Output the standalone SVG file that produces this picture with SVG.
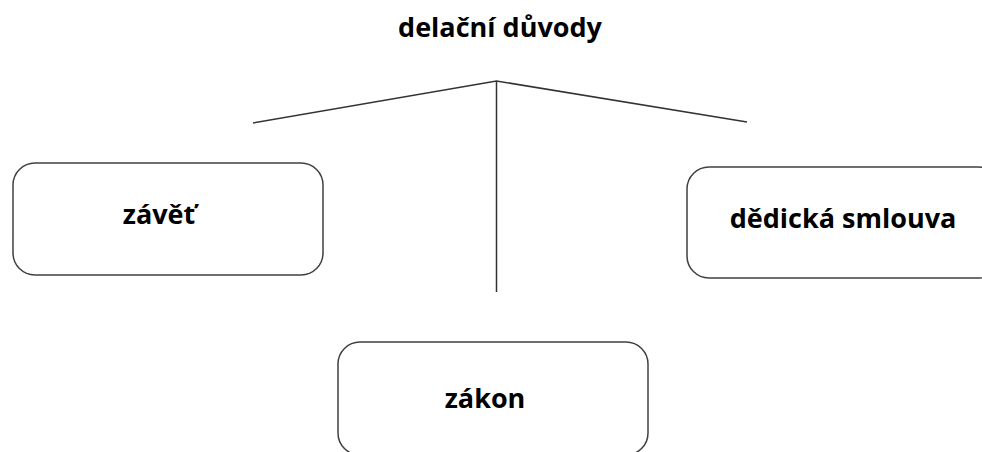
<svg xmlns="http://www.w3.org/2000/svg" width="982" height="452" viewBox="0 0 982 452">
<style>
.box{fill:#fff;stroke:#404040;stroke-width:1.5}
.lbl{font-family:"Open Sans","Noto Sans",sans-serif;font-weight:bold;font-size:27px;fill:#000;text-anchor:middle}
.ln{stroke:#333;stroke-width:1.5;fill:none}
</style>
<rect width="982" height="452" fill="#fff"/>
<g id="title"><text class="lbl" x="500" y="37">delační důvody</text></g>
<g id="connectors">
<path class="ln" d="M253 123 L496.5 81 L747 122"/>
<path class="ln" d="M496.5 81 V292"/>
</g>
<g id="zavet"><rect class="box" x="13" y="163" width="310" height="112" rx="22"/><text class="lbl" x="159" y="224">závěť</text></g>
<g id="smlouva"><rect class="box" x="687" y="167" width="313" height="111" rx="22"/><text class="lbl" x="843" y="228">dědická smlouva</text></g>
<g id="zakon"><rect class="box" x="338" y="342" width="310" height="113" rx="22"/><text class="lbl" x="485" y="408">zákon</text></g>
</svg>
